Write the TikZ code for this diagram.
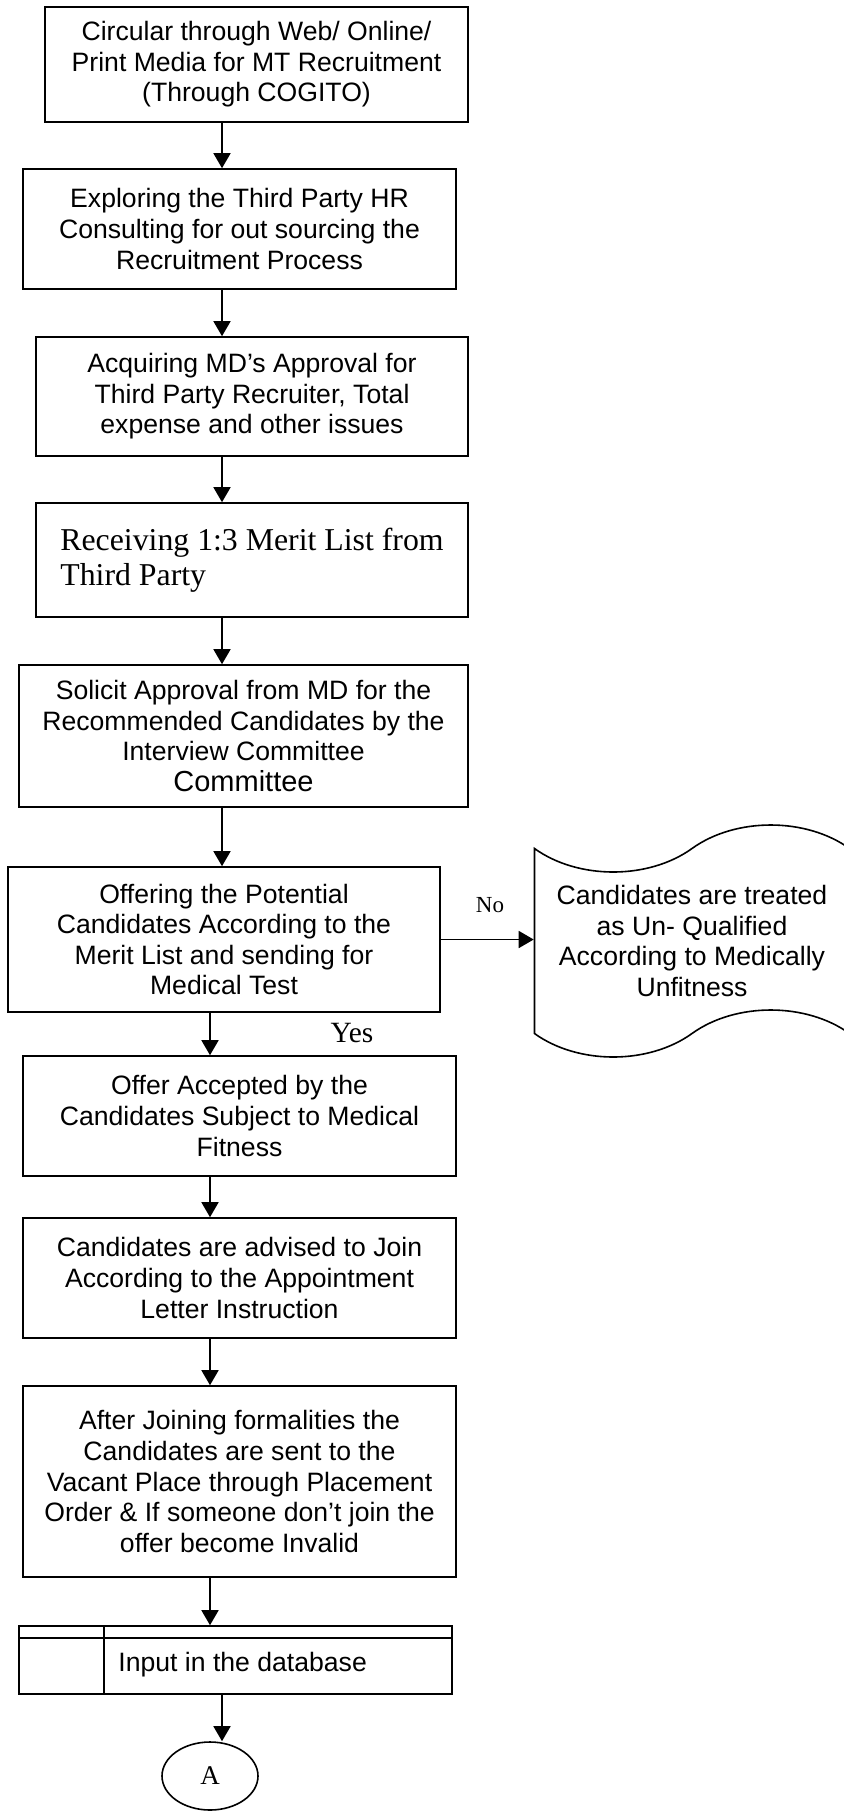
\documentclass[tikz,border=0pt]{standalone}
\usepackage{fontspec}
\setmainfont{Liberation Sans}
\newfontfamily\timesfont{Liberation Serif}
\usetikzlibrary{arrows.meta, shapes.symbols, shapes.geometric}

\tikzset{
  stepbox/.style={draw, line width=0.8pt, align=center, inner sep=2pt,
    font=\fontsize{13.3}{15.3}\selectfont},
  flow/.style={line width=0.8pt, -{Triangle[length=7.5pt,width=8.5pt]}},
}

\begin{document}
\begin{tikzpicture}[x=0.5pt, y=-0.5pt]
  \useasboundingbox (0,0) rectangle (844,1811);
  \coordinate (axisA) at (222,0);
  \coordinate (axisB) at (210,0);
  \coordinate (divider) at (104,0);
  \coordinate (dbtext) at (114,1665);

  \node[stepbox, minimum width=211.5pt, minimum height=57.5pt] (circular) at (256.5,64.5)
    {Circular through Web/ Online/\\Print Media for MT Recruitment\\(Through COGITO)};
  \node[stepbox, minimum width=216.5pt, minimum height=60pt] (explore) at (239.5,229)
    {Exploring the Third Party HR\\Consulting for out sourcing the\\Recruitment Process};
  \node[stepbox, minimum width=216pt, minimum height=59.5pt] (acquire) at (252,396.5)
    {Acquiring MD’s Approval for\\Third Party Recruiter, Total\\expense and other issues};
  \node[stepbox, minimum width=216pt, minimum height=57pt, align=left,
    font=\timesfont\fontsize{15.9}{17.5}\selectfont] (merit) at (252,560)
    {Receiving 1:3 Merit List from\\Third Party};
  \node[stepbox, minimum width=224.5pt, minimum height=71pt] (solicit) at (243.5,736)
    {Solicit Approval from MD for the\\Recommended Candidates by the\\Interview Committee\\{\fontsize{14.5}{16}\selectfont Committee}};
  \node[stepbox, minimum width=216pt, minimum height=72.5pt] (offering) at (224,939.5)
    {Offering the Potential\\Candidates According to the\\Merit List and sending for\\Medical Test};
  \node[stepbox, tape, minimum width=157.5pt, minimum height=116pt, tape bend height=23.5pt] (unqualified) at (692,941)
    {Candidates are treated\\as Un- Qualified\\According to Medically\\Unfitness};
  \node[stepbox, minimum width=216.5pt, minimum height=60pt] (accepted) at (239.5,1116)
    {Offer Accepted by the\\Candidates Subject to Medical\\Fitness};
  \node[stepbox, minimum width=216.5pt, minimum height=60pt] (advised) at (239.5,1278)
    {Candidates are advised to Join\\According to the Appointment\\Letter Instruction};
  \node[stepbox, minimum width=216.5pt, minimum height=95.5pt] (joining) at (239.5,1481.5)
    {After Joining formalities the\\Candidates are sent to the\\Vacant Place through Placement\\Order \& If someone don’t join the\\offer become Invalid};
  \node[draw, line width=0.8pt, minimum width=216.5pt, minimum height=34pt] (database) at (235.5,1660) {};
  \node[anchor=west, inner sep=2pt, font=\fontsize{13.3}{15.3}\selectfont] (dblabel) at (dbtext) {Input in the database};
  \node[draw, ellipse, line width=0.8pt, minimum width=48pt, minimum height=34pt, inner sep=0pt,
    font=\timesfont\fontsize{13.5}{15}\selectfont] (connA) at (210,1776) {A};

  \node[font=\timesfont\fontsize{11.5}{13}\selectfont] (nolabel) at (490,905) {No};
  \node[font=\timesfont\fontsize{14.7}{16}\selectfont] (yeslabel) at (352,1033) {Yes};

  \draw[line width=0.8pt] ([yshift=-6.5pt]database.north west) -- ([yshift=-6.5pt]database.north east);
  \draw[line width=0.8pt] (database.north -| divider) -- (database.south -| divider);

  \draw[flow] (circular.south -| axisA) -- (explore.north -| axisA);
  \draw[flow] (explore.south -| axisA) -- (acquire.north -| axisA);
  \draw[flow] (acquire.south -| axisA) -- (merit.north -| axisA);
  \draw[flow] (merit.south -| axisA) -- (solicit.north -| axisA);
  \draw[flow] (solicit.south -| axisA) -- (offering.north -| axisA);
  \draw[flow] (offering.east) -- (offering.east -| unqualified.west);
  \draw[flow] (offering.south -| axisB) -- (accepted.north -| axisB);
  \draw[flow] (accepted.south -| axisB) -- (advised.north -| axisB);
  \draw[flow] (advised.south -| axisB) -- (joining.north -| axisB);
  \draw[flow] (joining.south -| axisB) -- (database.north -| axisB);
  \draw[flow] (database.south -| axisA) -- (connA.north -| axisA);
\end{tikzpicture}
\end{document}
